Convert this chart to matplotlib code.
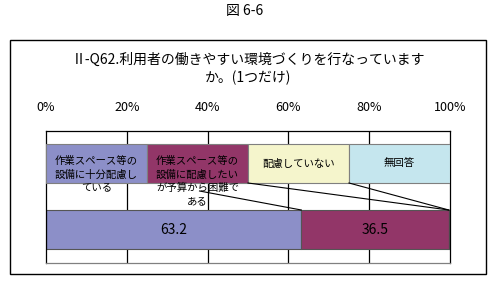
import matplotlib
matplotlib.use("Agg")
import matplotlib.pyplot as plt
from matplotlib.patches import Rectangle
import numpy as np

plt.rcParams['font.family'] = ['Noto Sans CJK JP', 'DejaVu Sans']

# Datos del gráfico
categorias = ["作業スペース等の\n設備に十分配慮し\nている",
              "作業スペース等の\n設備に配慮したい\nが予算から困難で\nある",
              "配慮していない",
              "無回答"]
valores = [63.2, 36.5, 0.0, 0.3]
colores = ["#8C8FC8", "#923668", "#F5F5CC", "#C5E6EE"]
ticks = [0, 20, 40, 60, 80, 100]
tick_labels = ["0%", "20%", "40%", "60%", "80%", "100%"]

W, H = 491, 282
fig = plt.figure(figsize=(W / 100, H / 100), dpi=100)

# marco exterior
fig.patches.append(Rectangle((10 / W, 1 - 274 / H), 476 / W, 234 / H,
                             transform=fig.transFigure, fill=False,
                             edgecolor="black", linewidth=1.0))
fig.text(245 / W, 1 - 11 / H, "図 6-6", ha="center", va="center", fontsize=10)
fig.text(248 / W, 1 - 69 / H, "Ⅱ-Q62.利用者の働きやすい環境づくりを行なっています\nか。(1つだけ)",
         ha="center", va="center", fontsize=10, linespacing=1.25)

ax = fig.add_axes([46 / W, 1 - 263 / H, 404 / W, 132 / H])
ax.set_xlim(0, 100)
ax.set_ylim(263, 131)  # eje y en pixeles de la imagen

for x in ticks[1:-1]:
    ax.axvline(x, color="black", linewidth=0.9, zorder=1)

# barra apilada
lefts = np.concatenate([[0], np.cumsum(valores)[:-1]])
ax.barh(229.5, valores, left=lefts, height=39, color=colores,
        edgecolor="#555555", linewidth=0.8, zorder=2)
for v, l in zip(valores, lefts):
    if v >= 5:
        ax.text(l + v / 2, 230, f"{v:.1f}", ha="center", va="center",
                fontsize=10, zorder=5)

# cajas de etiquetas
n = len(categorias)
box_w = 100 / n
box_lefts = np.arange(n) * box_w
ax.barh(163.5, box_w, left=box_lefts, height=39, color=colores,
        edgecolor="#7F7F7F", linewidth=0.8, zorder=3)

# líneas guía
starts = [None, (38.0, 191), (50.0, 183), (75.0, 183)]
for s, l in zip(starts, lefts):
    if s is None:
        continue
    ax.plot([s[0], l], [s[1], 210], color="black", linewidth=0.8, zorder=4)

for i, cat in enumerate(categorias):
    cx = box_lefts[i] + box_w / 2
    if "\n" in cat:
        ax.text(cx, 156, cat, ha="center", va="top", fontsize=7.5,
                linespacing=1.42, zorder=5)
    else:
        ax.text(cx, 163.5, cat, ha="center", va="center", fontsize=7.5, zorder=5)

ax.set_xticks(ticks)
ax.set_xticklabels(tick_labels, fontsize=9)
ax.xaxis.tick_top()
ax.tick_params(axis="x", length=0, pad=12)
ax.set_yticks([])
for sp in ax.spines.values():
    sp.set_color("black")
    sp.set_linewidth(0.9)
ax.spines["bottom"].set_color("#808080")

fig.savefig("out.png", dpi=100)
